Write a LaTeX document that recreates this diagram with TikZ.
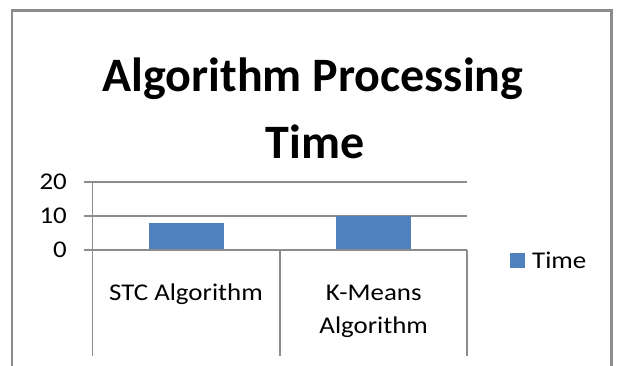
\documentclass[tikz,border=0pt]{standalone}
\usepackage{fontspec}
\setmainfont{Carlito}
\newfontfamily\widefont[FakeStretch=1.12]{Carlito}
\definecolor{framegray}{HTML}{8C8C8C}
\definecolor{gridgray}{HTML}{8C8C8C}
\definecolor{barblue}{HTML}{4F81BD}
\begin{document}
\begin{tikzpicture}[x=1pt,y=-1pt,
  frameline/.style={draw=framegray,line width=2.5pt},
  gridline/.style={draw=gridgray,line width=1.2pt},
  barbox/.style={fill=barblue,draw=none},
  smalltext/.style={font=\widefont\fontsize{24}{26}\selectfont,inner sep=0pt},
  ticklabel/.style={smalltext,anchor=base east},
  catlabel/.style={smalltext,anchor=base},
  titletext/.style={anchor=base,font=\bfseries\fontsize{48}{60}\selectfont,inner sep=0pt}]
\useasboundingbox (0,0) rectangle (617,365);
\fill[white] (0,0) rectangle (617,365);
% frame
\draw[frameline] (12,370) -- (12,10.5) -- (611.5,10.5) -- (611.5,370);
% title
\node[titletext] (title1) at (313,91) {Algorithm Processing};
\node[titletext] (title2) at (315,158) {Time};
% gridlines
\coordinate (g20l) at (84,182); \coordinate (g20r) at (467,182);
\coordinate (g10l) at (84,216); \coordinate (g10r) at (467,216);
\coordinate (g0l) at (84,250); \coordinate (g0r) at (467,250);
\draw[gridline] (g20l) -- (g20r);
\draw[gridline] (g10l) -- (g10r);
% bars
\node[barbox,minimum width=75pt,minimum height=27.2pt,inner sep=0pt,anchor=south] (b1) at (186.5,250) {};
\node[barbox,minimum width=75pt,minimum height=34pt,inner sep=0pt,anchor=south] (b2) at (373.5,250) {};
\draw[gridline] (g0l) -- (g0r);
% axis and category dividers
\coordinate (a0) at (92.5,182); \coordinate (a1) at (92.5,356);
\coordinate (d0) at (280,250); \coordinate (d1) at (280,356);
\coordinate (e0) at (467,250); \coordinate (e1) at (467,356);
\draw[gridline] (a0) -- (a1);
\draw[gridline] (d0) -- (d1);
\draw[gridline] (e0) -- (e1);
% tick labels
\node[ticklabel] (t20) at (67,189.5) {20};
\node[ticklabel] (t10) at (67,223.5) {10};
\node[ticklabel] (t0) at (67,257.5) {0};
% category labels
\node[catlabel] (c1) at (186,300) {STC Algorithm};
\node[catlabel] (c2a) at (373.7,300.5) {K-Means};
\node[catlabel] (c2b) at (373.7,333) {Algorithm};
% legend
\node[barbox,minimum width=15pt,minimum height=15pt,inner sep=0pt] (lg) at (517.5,260.5) {};
\node[smalltext,anchor=base west] (lgt) at (532,268.3) {Time};
\end{tikzpicture}
\end{document}
